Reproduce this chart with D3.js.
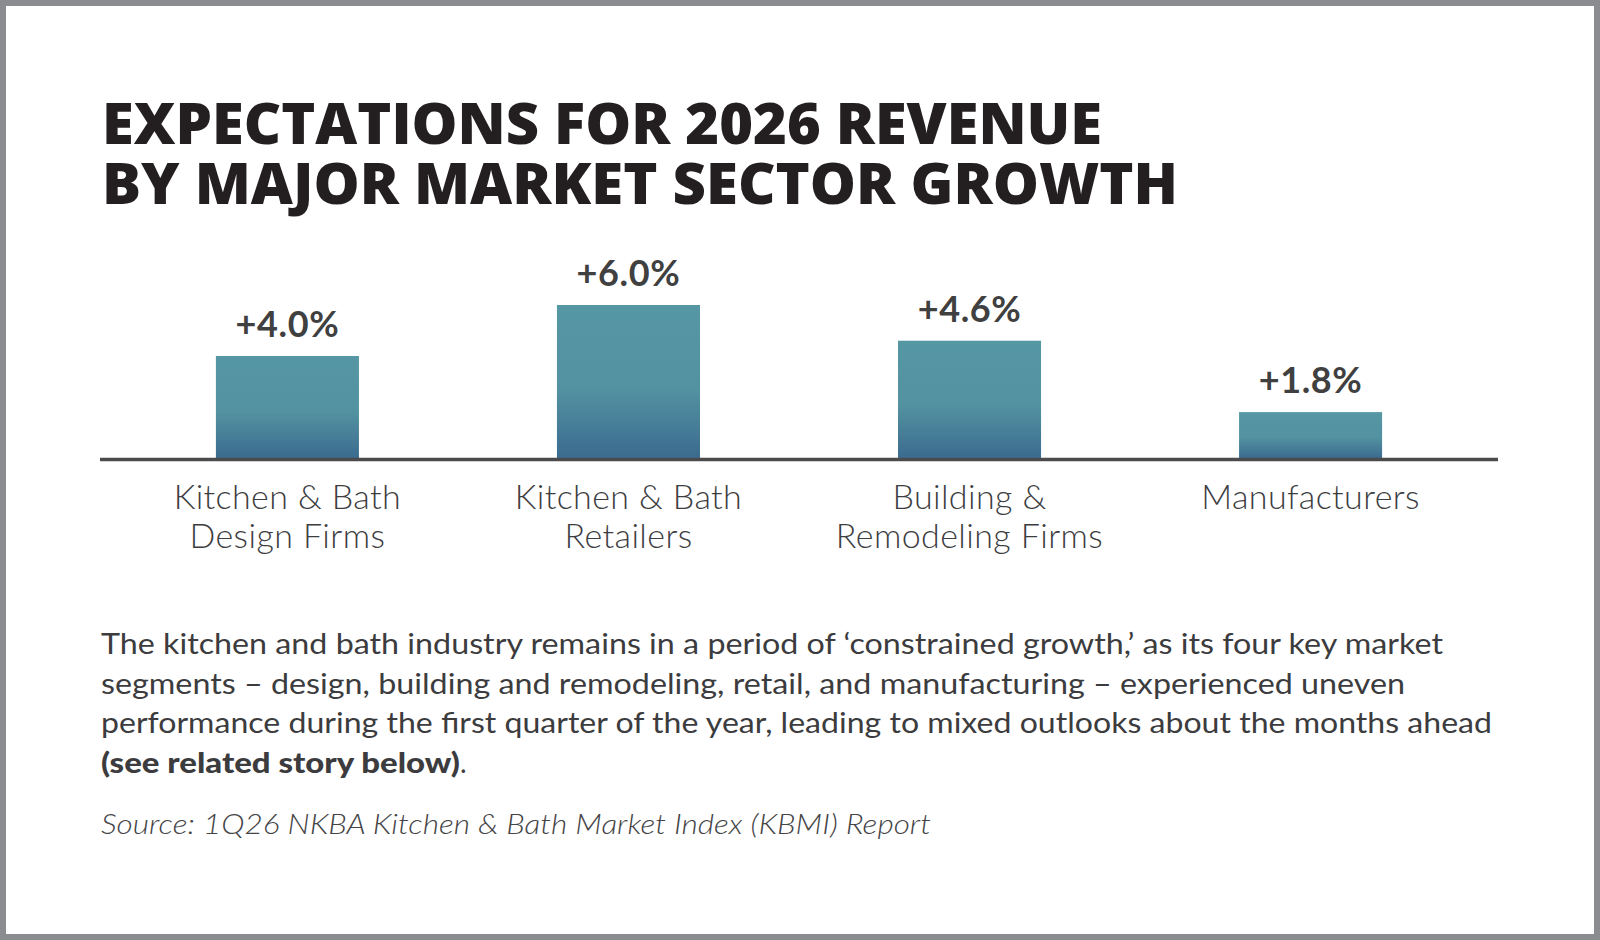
<!DOCTYPE html>
<html lang="en">
<head>
  <meta charset="UTF-8">
  <title>Expectations for 2026 Revenue</title>
  <script src="https://d3js.org/d3.v7.min.js"></script>
  <style>
    html, body { margin: 0; padding: 0; background: #8b8c90; }
    svg { display: block; }
  </style>
</head>
<body>
  <div id="chart"></div>

  <script>
    // chart data
    const categories = [
      'Kitchen & Bath Design Firms',
      'Kitchen & Bath Retailers',
      'Building & Remodeling Firms',
      'Manufacturers'
    ];
    const categoryLines = [
      ['Kitchen & Bath', 'Design Firms'],
      ['Kitchen & Bath', 'Retailers'],
      ['Building &', 'Remodeling Firms'],
      ['Manufacturers']
    ];
    const values = [4.0, 6.0, 4.6, 1.8];
    const valueLabels = ['+4.0%', '+6.0%', '+4.6%', '+1.8%'];

    const titleLines = [
      'EXPECTATIONS FOR 2026 REVENUE',
      'BY MAJOR MARKET SECTOR GROWTH'
    ];
    const bodyLines = [
      'The kitchen and bath industry remains in a period of \u2018constrained growth,\u2019 as its four key market',
      'segments \u2013 design, building and remodeling, retail, and manufacturing \u2013 experienced uneven',
      'performance during the first quarter of the year, leading to mixed outlooks about the months ahead'
    ];
    const bodyBold = '(see related story below)';
    const source = 'Source: 1Q26 NKBA Kitchen & Bath Market Index (KBMI) Report';

    const W = 1600, H = 940;

    const svg = d3.select('#chart')
      .append('svg')
      .attr('width', W)
      .attr('height', H);

    // white card inside the grey frame
    svg.append('rect')
      .attr('x', 6).attr('y', 6)
      .attr('width', W - 12).attr('height', H - 12)
      .attr('fill', '#ffffff');

    // bar gradient
    const grad = svg.append('defs').append('linearGradient')
      .attr('id', 'barGrad')
      .attr('x1', 0).attr('y1', 0).attr('x2', 0).attr('y2', 1);
    grad.append('stop').attr('offset', '0%').attr('stop-color', '#5697a4');
    grad.append('stop').attr('offset', '55%').attr('stop-color', '#5392a1');
    grad.append('stop').attr('offset', '100%').attr('stop-color', '#3b6b8f');

    // title, one text block with a tspan per line
    svg.append('text')
      .style('font-family', '"Open Sans", sans-serif')
      .style('font-weight', 800)
      .style('font-size', '57px')
      .attr('fill', '#231f20')
      .selectAll('tspan')
      .data(titleLines)
      .enter()
      .append('tspan')
      .attr('x', 102)
      .attr('y', (d, i) => 144 + i * 60)
      .attr('textLength', (d, i) => i === 0 ? 1000 : 1076)
      .attr('lengthAdjust', 'spacingAndGlyphs')
      .text(d => d);

    // scales
    const baseY = 458;
    const x = d3.scaleBand()
      .domain(categories)
      .range([117, 1481])
      .paddingInner(0.5806)
      .paddingOuter(0.29);

    const y = d3.scaleLinear()
      .domain([0, 6])
      .range([baseY, baseY - 153]);

    const rows = categories.map((c, i) => ({
      name: c, value: values[i], label: valueLabels[i], lines: categoryLines[i]
    }));

    // bars
    svg.append('g')
      .selectAll('rect')
      .data(rows)
      .enter()
      .append('rect')
      .attr('x', d => x(d.name))
      .attr('y', d => y(d.value))
      .attr('width', x.bandwidth())
      .attr('height', d => y(0) - y(d.value))
      .attr('fill', 'url(#barGrad)');

    // baseline
    svg.append('line')
      .attr('x1', 100).attr('x2', 1498)
      .attr('y1', baseY + 1.6).attr('y2', baseY + 1.6)
      .attr('stroke', '#4b4b4d')
      .attr('stroke-width', 3.5);

    // value labels
    svg.append('g')
      .selectAll('text')
      .data(rows)
      .enter()
      .append('text')
      .attr('x', d => x(d.name) + x.bandwidth() / 2)
      .attr('y', d => y(d.value) - 19)
      .attr('text-anchor', 'middle')
      .style('font-family', 'Lato, sans-serif')
      .style('font-weight', 700)
      .style('font-size', '36px')
      .style('letter-spacing', '0.6px')
      .attr('fill', '#404040')
      .text(d => d.label);

    // category labels
    const cats = svg.append('g')
      .selectAll('text')
      .data(rows)
      .enter()
      .append('text')
      .attr('text-anchor', 'middle')
      .style('font-family', 'Lato, sans-serif')
      .style('font-weight', 300)
      .style('font-size', '34px')
      .style('letter-spacing', '0.4px')
      .attr('fill', '#3d3d3f');

    cats.selectAll('tspan')
      .data(d => d.lines.map(l => ({ l, cx: x(d.name) + x.bandwidth() / 2 })))
      .enter()
      .append('tspan')
      .attr('x', d => d.cx)
      .attr('y', (d, i) => 509 + i * 39)
      .text(d => d.l);

    // body paragraph
    svg.append('g')
      .selectAll('text')
      .data(bodyLines)
      .enter()
      .append('text')
      .attr('x', 101)
      .attr('y', (d, i) => 654 + i * 39.5)
      .attr('textLength', (d, i) => [1342, 1304, 1391][i])
      .attr('lengthAdjust', 'spacingAndGlyphs')
      .style('font-family', 'Lato, sans-serif')
      .style('font-weight', 400)
      .style('font-size', '28px')
      .attr('fill', '#3c3c3e')
      .text(d => d);

    const last = svg.append('text')
      .attr('x', 101)
      .attr('y', 773)
      .style('font-family', 'Lato, sans-serif')
      .style('font-size', '28px')
      .attr('fill', '#3c3c3e');
    last.append('tspan')
      .attr('textLength', 359)
      .attr('lengthAdjust', 'spacingAndGlyphs')
      .style('font-weight', 900)
      .style('font-size', '29px')
      .text(bodyBold);
    last.append('tspan').style('font-weight', 400).text('.');

    // source line
    svg.append('text')
      .attr('x', 101)
      .attr('y', 834)
      .attr('textLength', 830)
      .attr('lengthAdjust', 'spacingAndGlyphs')
      .style('font-family', 'Lato, sans-serif')
      .style('font-weight', 300)
      .style('font-style', 'italic')
      .style('font-size', '28px')
      .attr('fill', '#444446')
      .text(source);
  </script>
</body>
</html>
